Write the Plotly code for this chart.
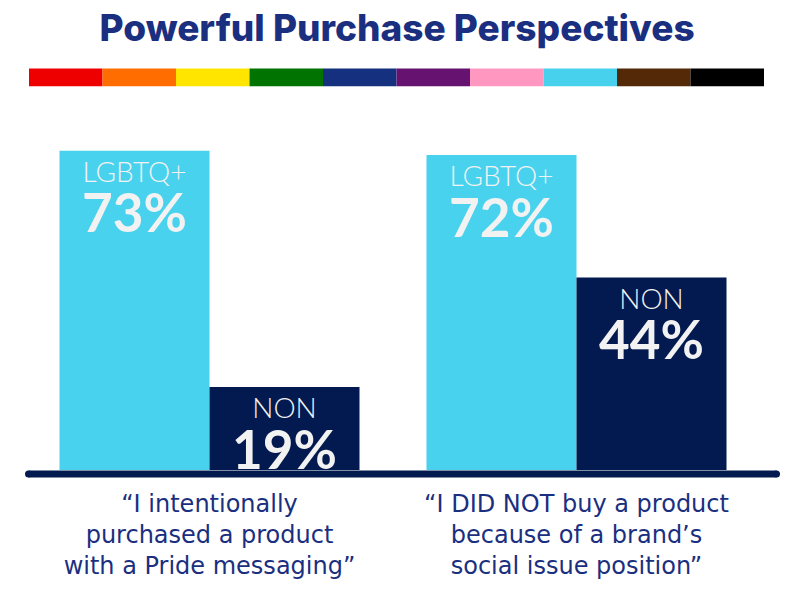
import plotly.graph_objects as go

# ---- data ----
categories = [
    "“I intentionally<br>purchased a product<br>with a Pride messaging”",
    "“I DID NOT buy a product<br>because of a brand’s<br>social issue position”",
]
series_names = ["LGBTQ+", "NON"]
lgbtq_values = [73, 72]
non_values = [19, 44]
title_text = "Powerful Purchase Perspectives"
stripe_colors = ["#ee0000", "#ff6d00", "#ffe500", "#007300", "#15307f",
                 "#651270", "#ff97c1", "#48d1ed", "#542908", "#000000"]

CYAN = "#48d2ee"
NAVY_BAR = "#021a4f"
NAVY_TEXT = "#1a2f80"
TXT = "#f2f2f2"

W, H = 794, 592
ML, MR, MT, MB = 26, 34, 120, 119
PW = W - ML - MR
PH = H - MT - MB


def bar_text(name, vals):
    return [f"<span style='font-size:28px'>{name}</span><br>"
            f"<b><span style='font-size:53px'>{v}%</span></b>" for v in vals]


fig = go.Figure()
for name, vals, col in [(series_names[0], lgbtq_values, CYAN),
                        (series_names[1], non_values, NAVY_BAR)]:
    fig.add_trace(go.Bar(
        x=categories, y=vals, name=name, marker=dict(color=col, line=dict(width=0)),
        text=bar_text(name, vals), texttemplate="%{text}",
        textposition="inside", insidetextanchor="end", constraintext="none",
        textfont=dict(family="Lato", size=39, color=TXT, weight=300),
        textangle=0, hoverinfo="skip", cliponaxis=False,
    ))

shapes = []
# rainbow stripe (pixel positions converted to paper coords)
sx0, sx1, sy0, sy1 = 29, 764, 68, 86
seg = (sx1 - sx0) / len(stripe_colors)
for i, c in enumerate(stripe_colors):
    shapes.append(dict(
        type="rect", xref="paper", yref="paper",
        x0=(sx0 + i * seg - ML) / PW, x1=(sx0 + (i + 1) * seg - ML) / PW,
        y0=(H - MB - sy1) / PH, y1=(H - MB - sy0) / PH,
        fillcolor=c, line=dict(width=0), layer="above"))

# baseline with round ends
bx0, bx1, by = 28.5, 776.5, 477
px0, px1 = (bx0 - ML) / PW, (bx1 - ML) / PW
py = (H - MB - by) / PH
shapes.append(dict(type="line", xref="paper", yref="paper", x0=px0, x1=px1,
                   y0=py, y1=py, line=dict(color=NAVY_BAR, width=7), layer="above"))
for pxx in (px0, px1):
    shapes.append(dict(type="circle", xref="paper", yref="paper",
                       xsizemode="pixel", ysizemode="pixel", xanchor=pxx, yanchor=py,
                       x0=-3.5, x1=3.5, y0=-3.5, y1=3.5,
                       fillcolor=NAVY_BAR, line=dict(width=0), layer="above"))

fig.update_layout(
    width=W, height=H, margin=dict(l=ML, r=MR, t=MT, b=MB),
    paper_bgcolor="white", plot_bgcolor="white",
    barmode="group", bargap=67 / 367, bargroupgap=0, showlegend=False,
    title=dict(text=title_text, x=0.5, xanchor="center",
               y=1 - 28 / H, yanchor="middle", yref="container",
               font=dict(family="Inter", size=37, color=NAVY_TEXT, weight=800)),
    xaxis=dict(showline=False, showgrid=False, zeroline=False, ticks="",
               tickfont=dict(family="DejaVu Sans", size=24, color=NAVY_TEXT),
               ticklabelstandoff=17),
    yaxis=dict(range=[0, 80], visible=False, showgrid=False, zeroline=False),
    shapes=shapes,
)

fig.write_html("out.html", config={"displayModeBar": False},
               post_script="document.body.style.margin='0';")
